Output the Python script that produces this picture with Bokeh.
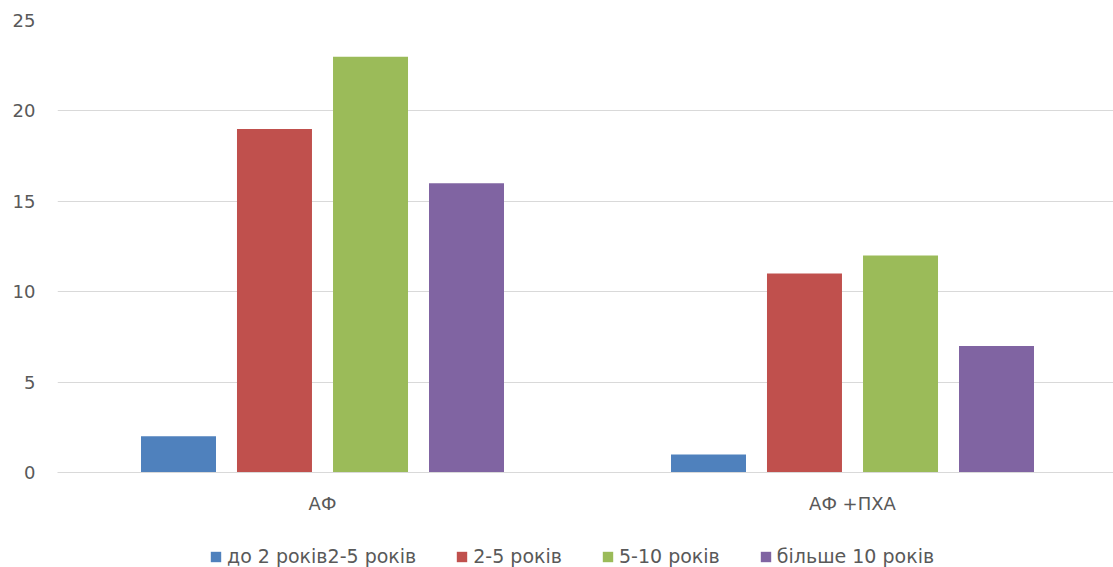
from bokeh.plotting import figure
from bokeh.layouts import column
from bokeh.models import ColumnDataSource, Range1d, Legend, LegendItem, FixedTicker
from bokeh.transform import dodge
from bokeh.embed import file_html
from bokeh.resources import INLINE

groups = ["АФ", "АФ +ПХА"]
series = ["до 2 років2-5 років", "2-5 років", "5-10 років", "більше 10 років"]
colors = ["#4F81BD", "#C0504D", "#9BBB59", "#8064A2"]
v_lt2 = [2, 1]
v_2_5 = [19, 11]
v_5_10 = [23, 12]
v_gt10 = [16, 7]
y_ticks = [0, 5, 10, 15, 20, 25]

pos = [i + 0.5 for i in range(len(groups))]
src = ColumnDataSource(dict(x=pos, s0=v_lt2, s1=v_2_5, s2=v_5_10, s3=v_gt10))

FONT = "DejaVu Sans"
FS = "18px"

p = figure(width=1113, height=530, output_backend="svg", toolbar_location=None,
           x_range=Range1d(0, 1056 / 530), y_range=Range1d(0, 25))
p.min_border_left = 57
p.min_border_right = 0
p.min_border_top = 20
p.min_border_bottom = 58
p.outline_line_color = None
p.background_fill_color = "white"
p.border_fill_color = "white"

offsets = [-0.2717, -0.0906, 0.0906, 0.2717]
bw = 0.1415
for k in range(4):
    p.vbar(x=dodge("x", offsets[k]), top="s%d" % k, width=bw, source=src,
           fill_color=colors[k], line_color=None)

p.xgrid.grid_line_color = None
p.ygrid.grid_line_color = "#d9d9d9"
p.ygrid.grid_line_width = 1
p.ygrid.ticker = FixedTicker(ticks=y_ticks)

p.yaxis.ticker = FixedTicker(ticks=y_ticks)
p.yaxis.axis_line_color = None
p.yaxis.major_tick_line_color = None
p.yaxis.minor_tick_line_color = None
p.yaxis.major_tick_out = 0
p.yaxis.major_label_standoff = 22
p.yaxis.major_label_text_font = FONT
p.yaxis.major_label_text_font_size = FS
p.yaxis.major_label_text_color = "#595959"

p.xaxis.ticker = FixedTicker(ticks=pos)
p.xaxis.major_label_overrides = {pos[i]: groups[i] for i in range(len(groups))}
p.xaxis.axis_line_color = "#d9d9d9"
p.xaxis.major_tick_line_color = None
p.xaxis.minor_tick_line_color = None
p.xaxis.major_tick_out = 0
p.xaxis.major_label_standoff = 20
p.xaxis.major_label_text_font = FONT
p.xaxis.major_label_text_font_size = FS
p.xaxis.major_label_text_color = "#595959"

# legend strip below the chart
q = figure(width=1113, height=37, output_backend="svg", toolbar_location=None,
           x_range=Range1d(0, 1), y_range=Range1d(1000, 1001))
q.min_border_left = 0
q.min_border_right = 0
q.min_border_top = 0
q.min_border_bottom = 0
q.outline_line_color = None
q.axis.visible = False
q.grid.grid_line_color = None
items = []
for k in range(4):
    r = q.vbar(x="x", top="s%d" % k, width=0.1, source=src,
               fill_color=colors[k], line_color=None)
    items.append(LegendItem(label=series[k], renderers=[r]))

legend = Legend(items=items, orientation="horizontal", location=(152, 0),
                label_text_font=FONT, label_text_font_size="19px",
                label_text_color="#595959", glyph_width=13, glyph_height=13,
                label_standoff=5, spacing=39, border_line_color=None,
                background_fill_alpha=0, padding=0, margin=0)
q.add_layout(legend)

layout = column(p, q, spacing=0)
open("out.html", "w").write(file_html(layout, INLINE))
